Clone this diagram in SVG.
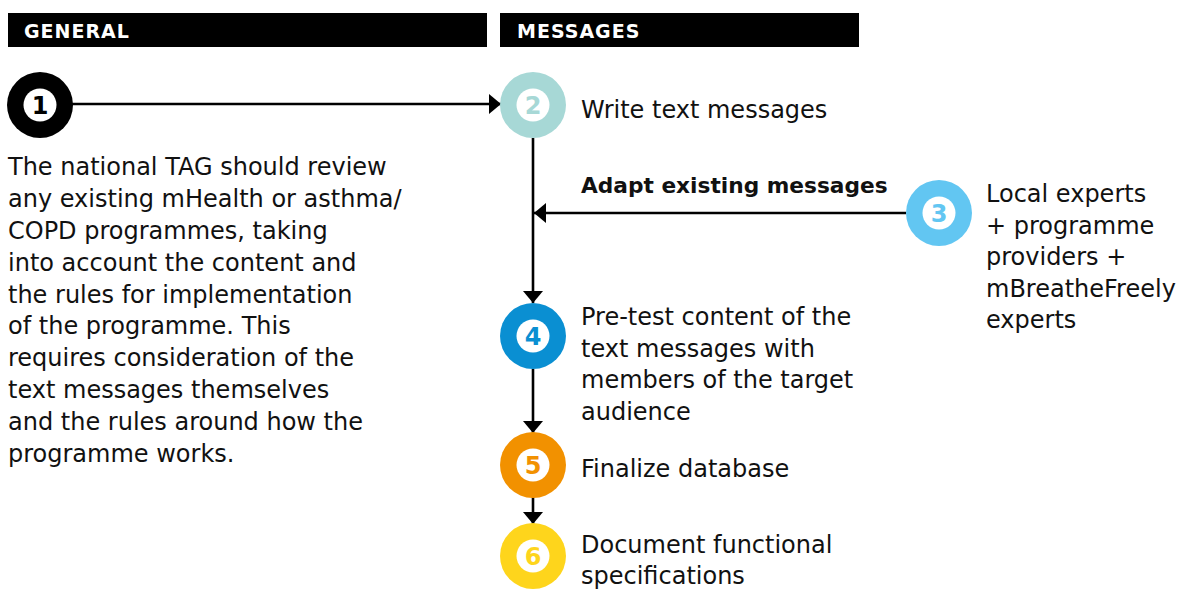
<svg xmlns="http://www.w3.org/2000/svg" width="1181" height="589" viewBox="0 0 1181 589">
<defs>
<style>
.hdr{fill:#000}
.hdrt{font-family:"DejaVu Sans","Liberation Sans",sans-serif;font-weight:bold;font-size:19px;fill:#fff;letter-spacing:1px}
.body{font-family:"DejaVu Sans","Liberation Sans",sans-serif;font-size:24px;fill:#111}
.bold{font-family:"DejaVu Sans","Liberation Sans",sans-serif;font-size:21.7px;font-weight:bold;fill:#111}
.num{font-family:"DejaVu Sans","Liberation Sans",sans-serif;font-size:24px;font-weight:bold;text-anchor:middle}
.conn{stroke:#000;stroke-width:2.6;fill:none}
</style>
<marker id="arr" viewBox="0 0 12 20" refX="12" refY="10" markerWidth="12" markerHeight="20" markerUnits="userSpaceOnUse" orient="auto">
<path d="M0,0 L12,10 L0,20 Z" fill="#000"/>
</marker>
</defs>
<rect width="1181" height="589" fill="#fff"/>
<g id="header-general">
<rect class="hdr" x="8" y="13" width="479" height="34"/>
<text class="hdrt" x="24" y="38">GENERAL</text>
</g>
<g id="header-messages">
<rect class="hdr" x="500" y="13" width="359" height="34"/>
<text class="hdrt" x="517" y="38">MESSAGES</text>
</g>
<g id="connectors">
<line class="conn" x1="72" y1="104" x2="501" y2="104" marker-end="url(#arr)"/>
<line class="conn" x1="533" y1="138" x2="533" y2="303" marker-end="url(#arr)"/>
<line class="conn" x1="906" y1="213" x2="534" y2="213" marker-end="url(#arr)"/>
<line class="conn" x1="533" y1="369" x2="533" y2="433" marker-end="url(#arr)"/>
<line class="conn" x1="533" y1="497" x2="533" y2="524" marker-end="url(#arr)"/>
<text class="bold" x="581" y="193">Adapt existing messages</text>
</g>
<g id="node1">
<circle cx="40" cy="105" r="33" fill="#000"/>
<circle cx="40" cy="105" r="16.5" fill="#fff"/>
<text class="num" x="40" y="114" fill="#000">1</text>
<text class="body" x="8"><tspan x="8" y="175">The national TAG should review</tspan><tspan x="8" y="207">any existing mHealth or asthma/</tspan><tspan x="8" y="239">COPD programmes, taking</tspan><tspan x="8" y="271">into account the content and</tspan><tspan x="8" y="303">the rules for implementation</tspan><tspan x="8" y="334">of the programme. This</tspan><tspan x="8" y="366">requires consideration of the</tspan><tspan x="8" y="398">text messages themselves</tspan><tspan x="8" y="430">and the rules around how the</tspan><tspan x="8" y="462">programme works.</tspan></text>
</g>
<g id="node2">
<circle cx="533" cy="105" r="33" fill="#a7d8d6"/>
<circle cx="533" cy="105" r="16.5" fill="#fff"/>
<text class="num" x="533" y="114" fill="#a7d8d6">2</text>
<text class="body" x="581" y="118">Write text messages</text>
</g>
<g id="node3">
<circle cx="939" cy="213" r="33" fill="#62c6f2"/>
<circle cx="939" cy="213" r="16.5" fill="#fff"/>
<text class="num" x="939" y="222" fill="#62c6f2">3</text>
<text class="body"><tspan x="986" y="202">Local experts</tspan><tspan x="986" y="234">+ programme</tspan><tspan x="986" y="265">providers +</tspan><tspan x="986" y="297">mBreatheFreely</tspan><tspan x="986" y="328">experts</tspan></text>
</g>
<g id="node4">
<circle cx="533" cy="336" r="33" fill="#0a8fd2"/>
<circle cx="533" cy="336" r="16.5" fill="#fff"/>
<text class="num" x="533" y="345" fill="#0a8fd2">4</text>
<text class="body"><tspan x="581" y="325">Pre-test content of the</tspan><tspan x="581" y="357">text messages with</tspan><tspan x="581" y="388">members of the target</tspan><tspan x="581" y="420">audience</tspan></text>
</g>
<g id="node5">
<circle cx="533" cy="465" r="33" fill="#f29100"/>
<circle cx="533" cy="465" r="16.5" fill="#fff"/>
<text class="num" x="533" y="474" fill="#f29100">5</text>
<text class="body" x="581" y="477">Finalize database</text>
</g>
<g id="node6">
<circle cx="533" cy="556" r="33" fill="#fed51c"/>
<circle cx="533" cy="556" r="16.5" fill="#fff"/>
<text class="num" x="533" y="565" fill="#fed51c">6</text>
<text class="body"><tspan x="581" y="553">Document functional</tspan><tspan x="581" y="584">specifications</tspan></text>
</g>
</svg>
